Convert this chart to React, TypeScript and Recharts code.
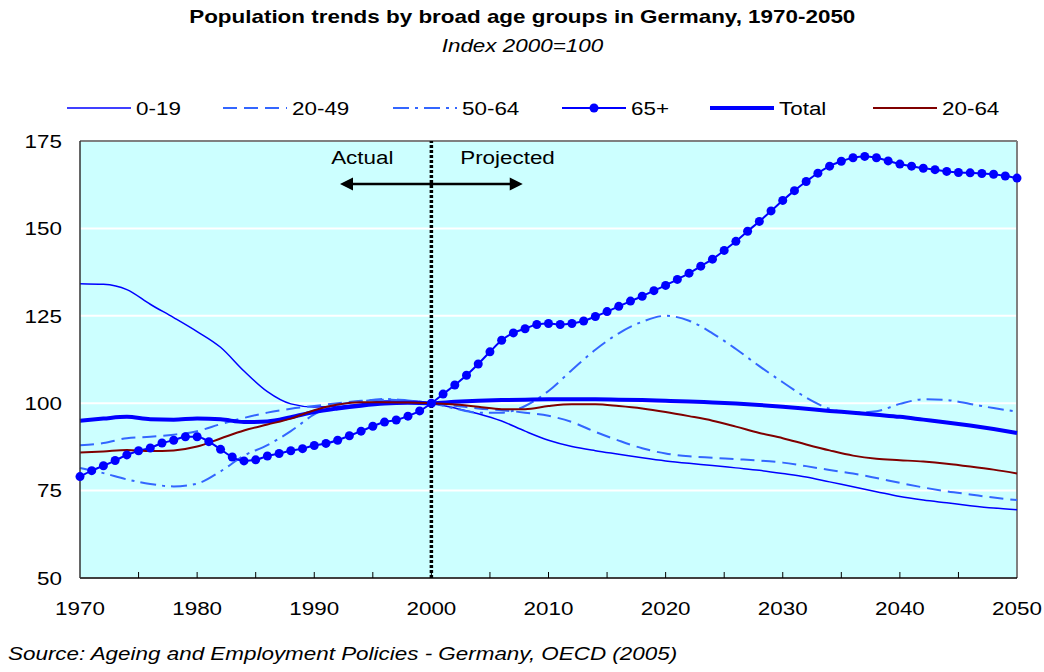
import React from "react";
import { CartesianGrid, Line, LineChart, ReferenceDot, ReferenceLine, XAxis, YAxis } from "recharts";

// Excel-ish palette from the original OECD chart
const BLUE = "#0000FF";
const LIGHT_BLUE = "#3366FF";
const MAROON = "#800000";
const PLOT_BG = "#CCFFFF";
const FONT = '"Liberation Sans", Arial, sans-serif';
const FS = 19;
const SX = 1.18; // the source image is stretched horizontally

const YEARS_65 = [
  1970, 1971, 1972, 1973, 1974, 1975, 1976, 1977, 1978, 1979,
  1980, 1981, 1982, 1983, 1984, 1985, 1986, 1987, 1988, 1989,
  1990, 1991, 1992, 1993, 1994, 1995, 1996, 1997, 1998, 1999,
  2000, 2001, 2002, 2003, 2004, 2005, 2006, 2007, 2008, 2009,
  2010, 2011, 2012, 2013, 2014, 2015, 2016, 2017, 2018, 2019,
  2020, 2021, 2022, 2023, 2024, 2025, 2026, 2027, 2028, 2029,
  2030, 2031, 2032, 2033, 2034, 2035, 2036, 2037, 2038, 2039,
  2040, 2041, 2042, 2043, 2044, 2045, 2046, 2047, 2048, 2049, 2050,
];
const AGE_65 = [
  79.0, 80.7, 82.1, 83.6, 85.2, 86.4, 87.2, 88.6, 89.4, 90.4,
  90.4, 89.0, 86.8, 84.6, 83.5, 83.8, 84.9, 85.6, 86.4, 87.0,
  87.9, 88.5, 89.4, 90.7, 92.0, 93.4, 94.6, 95.2, 96.3, 97.8,
  100.0, 102.6, 105.2, 108.0, 111.2, 114.7, 118.0, 120.1, 121.3, 122.5,
  122.8, 122.5, 122.8, 123.5, 124.8, 126.2, 127.7, 129.2, 130.6, 132.2,
  133.7, 135.4, 137.2, 139.2, 141.2, 143.7, 146.3, 149.2, 152.0, 155.0,
  158.0, 160.8, 163.4, 165.8, 167.8, 169.2, 170.2, 170.6, 170.2, 169.3,
  168.4, 167.8, 167.2, 166.8, 166.3, 166.0, 165.9, 165.7, 165.5, 165.0, 164.4,
];

// the other series are read every second year
const YEARS = [
  1970, 1972, 1974, 1976, 1978, 1980, 1982, 1984, 1986, 1988,
  1990, 1992, 1994, 1996, 1998, 2000, 2002, 2004, 2006, 2008,
  2010, 2012, 2014, 2016, 2018, 2020, 2022, 2024, 2026, 2028,
  2030, 2032, 2034, 2036, 2038, 2040, 2042, 2044, 2046, 2048, 2050,
];
const AGE_0_19 = [
  134.2, 134.0, 132.5, 128.3, 124.5, 120.5, 116.0, 109.2, 103.3, 99.8,
  98.9, 99.1, 99.8, 100.6, 100.7, 100.0, 98.6, 97.0, 94.9, 92.0,
  89.4, 87.6, 86.4, 85.4, 84.4, 83.5, 82.8, 82.2, 81.5, 80.8,
  79.9, 78.9, 77.5, 76.1, 74.7, 73.3, 72.3, 71.5, 70.7, 70.0, 69.5,
];
const AGE_20_49 = [
  88.0, 88.6, 90.0, 90.4, 91.0, 92.0, 94.0, 95.8, 97.3, 98.4,
  99.2, 100.0, 100.7, 101.0, 100.6, 100.0, 99.3, 98.5, 98.0, 97.3,
  96.4, 94.6, 91.8, 89.3, 87.1, 85.6, 84.8, 84.4, 84.0, 83.6,
  83.0, 82.0, 80.9, 79.9, 78.6, 77.2, 75.9, 74.8, 73.9, 73.0, 72.3,
];
const AGE_50_64 = [
  81.5, 80.0, 78.2, 76.9, 76.2, 77.0, 80.5, 85.0, 88.0, 92.0,
  96.8, 99.5, 100.5, 101.2, 100.8, 100.0, 98.5, 97.3, 97.3, 99.2,
  103.5, 109.5, 115.3, 120.0, 123.3, 125.0, 123.6, 120.0, 115.5, 110.6,
  106.0, 101.6, 98.4, 97.3, 97.7, 99.8, 101.1, 100.9, 99.8, 98.6, 97.6,
];
const TOTAL = [
  95.0, 95.6, 96.1, 95.4, 95.3, 95.6, 95.4, 94.6, 94.8, 96.0,
  97.5, 98.5, 99.3, 99.9, 100.1, 100.0, 100.4, 100.7, 100.9, 101.0,
  101.1, 101.1, 101.1, 101.0, 100.9, 100.7, 100.5, 100.2, 99.9, 99.5,
  99.0, 98.4, 97.8, 97.3, 96.7, 96.1, 95.3, 94.5, 93.6, 92.6, 91.5,
];
const AGE_20_64 = [
  85.9, 86.2, 86.6, 86.3, 86.5, 87.6, 89.9, 92.2, 93.9, 95.6,
  98.0, 99.6, 100.3, 100.3, 100.2, 100.0, 99.6, 99.0, 98.3, 98.3,
  99.2, 99.7, 99.7, 99.2, 98.5, 97.5, 96.3, 95.0, 93.3, 91.5,
  90.0, 88.2, 86.5, 85.0, 84.1, 83.7, 83.3, 82.7, 81.9, 81.0, 79.9,
];

const X_TICKS = [1970, 1975, 1980, 1985, 1990, 1995, 2000, 2005, 2010, 2015, 2020, 2025, 2030, 2035, 2040, 2045, 2050];
const Y_TICKS = [50, 75, 100, 125, 150, 175];

const toRows = (years: number[], values: number[]) => years.map((year, i) => ({ year, value: values[i] }));

const SERIES = [
  { name: "0-19", data: toRows(YEARS, AGE_0_19), color: BLUE, width: 1.5, dash: undefined, dots: false },
  { name: "20-49", data: toRows(YEARS, AGE_20_49), color: LIGHT_BLUE, width: 2, dash: "14 7", dots: false },
  { name: "50-64", data: toRows(YEARS, AGE_50_64), color: LIGHT_BLUE, width: 2, dash: "16 6 3 6", dots: false },
  { name: "65+", data: toRows(YEARS_65, AGE_65), color: BLUE, width: 2, dash: undefined, dots: true },
  { name: "Total", data: toRows(YEARS, TOTAL), color: BLUE, width: 4, dash: undefined, dots: false },
  { name: "20-64", data: toRows(YEARS, AGE_20_64), color: MAROON, width: 2, dash: undefined, dots: false },
];

// legend sample start x for each series, as in the original
const LEGEND_X = [67, 223, 393, 562, 710, 873];

function Stretched({ x, y, anchor = "start", children }: { x: number; y: number; anchor?: string; children: React.ReactNode }) {
  return (
    <text
      transform={`translate(${x},${y}) scale(${SX},1)`}
      textAnchor={anchor}
      dominantBaseline="central"
      fontFamily={FONT}
      fontSize={FS}
      fill="#000"
    >
      {children}
    </text>
  );
}

function YearTick({ x, y, payload }: any) {
  const yr = payload.value as number;
  return (
    <g>
      {yr > 1970 && yr < 2050 && <line x1={x} x2={x} y1={y} y2={y - 6} stroke="#000" strokeWidth={1} />}
      {yr % 10 === 0 && <Stretched x={x} y={y + 30} anchor="middle">{yr}</Stretched>}
    </g>
  );
}

function IndexTick({ x, y, payload }: any) {
  return <Stretched x={x - 18} y={y} anchor="end">{payload.value}</Stretched>;
}

function LegendRow() {
  return (
    <svg width={1044} height={26} style={{ position: "absolute", left: 0, top: 95 }}>
      {SERIES.map((s, i) => {
        const x0 = LEGEND_X[i];
        return (
          <g key={s.name}>
            <line x1={x0} x2={x0 + 64} y1={13} y2={13} stroke={s.color} strokeWidth={s.width} strokeDasharray={s.dash} />
            {s.dots && <circle cx={x0 + 32} cy={13} r={4.5} fill={s.color} />}
            <Stretched x={x0 + 69} y={13}>{s.name}</Stretched>
          </g>
        );
      })}
    </svg>
  );
}

function DoubleArrow(props: any) {
  const { x1, y1, x2, y2 } = props;
  const h = 13;
  const w = 6.5;
  return (
    <g>
      <line x1={x1 + h - 1} y1={y1} x2={x2 - h + 1} y2={y2} stroke="#000" strokeWidth={2.5} />
      <polygon points={`${x1},${y1} ${x1 + h},${y1 - w} ${x1 + h},${y1 + w}`} fill="#000" />
      <polygon points={`${x2},${y2} ${x2 - h},${y2 - w} ${x2 - h},${y2 + w}`} fill="#000" />
    </g>
  );
}

const note = (text: string) => (p: any) => <Stretched x={p.cx} y={p.cy} anchor="middle">{text}</Stretched>;

const spanText = (extra: React.CSSProperties): React.CSSProperties => ({
  display: "inline-block",
  transform: `scaleX(${SX})`,
  fontSize: FS,
  whiteSpace: "nowrap",
  ...extra,
});

export default function App() {
  return (
    <div style={{ position: "absolute", left: 0, top: 0, width: 1044, height: 672, background: "#fff", fontFamily: FONT }}>
      <div style={{ position: "absolute", top: 6, left: 0, width: 1044, textAlign: "center" }}>
        <span style={spanText({ fontWeight: "bold" })}>Population trends by broad age groups in Germany, 1970-2050</span>
      </div>
      <div style={{ position: "absolute", top: 35, left: 0, width: 1044, textAlign: "center" }}>
        <span style={spanText({ fontStyle: "italic" })}>Index 2000=100</span>
      </div>
      <LegendRow />
      <LineChart width={1044} height={672} margin={{ top: 141, right: 27, bottom: 64, left: 10 }}>
        <CartesianGrid fill={PLOT_BG} vertical={false} stroke="#fff" strokeWidth={2} />
        <XAxis
          type="number"
          dataKey="year"
          domain={[1970, 2050]}
          ticks={X_TICKS}
          interval={0}
          height={30}
          tickSize={0}
          tickMargin={0}
          tickLine={false}
          axisLine={{ stroke: "#000", strokeWidth: 1.5 }}
          tick={<YearTick />}
        />
        <YAxis
          type="number"
          domain={[50, 175]}
          ticks={Y_TICKS}
          interval={0}
          width={70}
          tickSize={0}
          tickMargin={0}
          tickLine={false}
          axisLine={{ stroke: "#333", strokeWidth: 1.5 }}
          tick={<IndexTick />}
        />
        <ReferenceLine y={175} stroke="#808080" strokeWidth={2} />
        <ReferenceLine x={2050} stroke="#808080" strokeWidth={2} />
        {SERIES.map((s) => (
          <Line
            key={s.name}
            data={s.data}
            dataKey="value"
            name={s.name}
            type="monotone"
            stroke={s.color}
            strokeWidth={s.width}
            strokeDasharray={s.dash}
            dot={s.dots ? { r: 4.5, fill: s.color, stroke: "none" } : false}
            activeDot={false}
            isAnimationActive={false}
          />
        ))}
        <ReferenceLine x={2000} stroke="#000" strokeWidth={3.5} strokeDasharray="3 2" />
        <ReferenceLine
          segment={[
            { x: 1992.2, y: 162.7 },
            { x: 2007.8, y: 162.7 },
          ]}
          shape={DoubleArrow}
        />
        <ReferenceDot x={1994.1} y={170.4} r={0} shape={note("Actual")} />
        <ReferenceDot x={2006.5} y={170.4} r={0} shape={note("Projected")} />
      </LineChart>
      <div style={{ position: "absolute", top: 643, left: 8 }}>
        <span style={spanText({ fontStyle: "italic", transformOrigin: "left center" })}>
          Source: Ageing and Employment Policies - Germany, OECD (2005)
        </span>
      </div>
    </div>
  );
}
